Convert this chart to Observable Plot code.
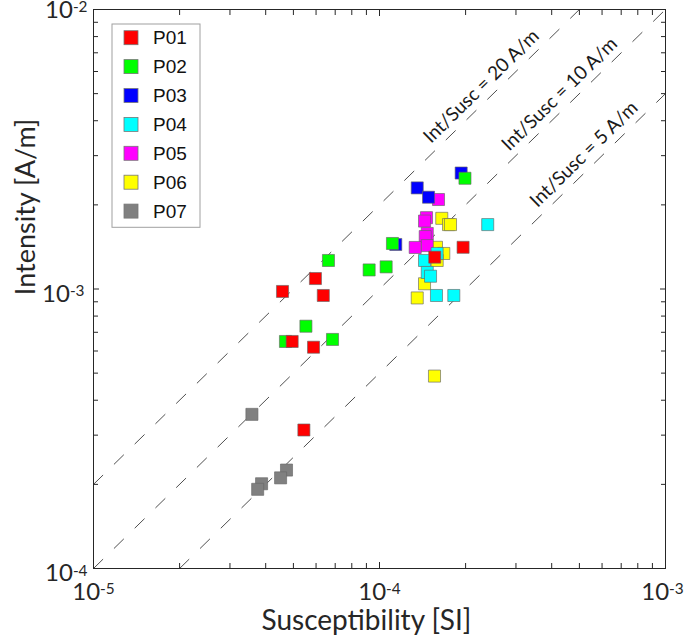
<!DOCTYPE html>
<html><head><meta charset="utf-8">
<script src="https://cdn.jsdelivr.net/npm/d3@7"></script>
<script src="https://cdn.jsdelivr.net/npm/@observablehq/plot@0.6"></script>
<style>
body{margin:0;background:#fff;}
#chart{width:685px;height:640px;}
</style></head><body><div id="chart"></div>
<script>
// ---- data ----
const series = ["P01","P02","P03","P04","P05","P06","P07"];
const colors = ["#ff0000","#00ff00","#0000ff","#00ffff","#ff00ff","#ffff00","#808080"];

const suscP01 = [1.96e-4, 1.56e-4, 5.97e-5, 4.58e-5, 6.36e-5, 4.95e-5, 5.88e-5, 5.44e-5];
const intP01  = [1.41e-3, 1.30e-3, 1.09e-3, 9.80e-4, 9.48e-4, 6.49e-4, 6.19e-4, 3.13e-4];
const suscP02 = [1.99e-4, 1.11e-4, 6.63e-5, 1.055e-4, 9.20e-5, 5.53e-5, 4.69e-5, 6.85e-5];
const intP02  = [2.49e-3, 1.455e-3, 1.265e-3, 1.20e-3, 1.17e-3, 7.36e-4, 6.49e-4, 6.60e-4];
const suscP03 = [1.93e-4, 1.355e-4, 1.484e-4, 1.14e-4];
const intP03  = [2.60e-3, 2.30e-3, 2.13e-3, 1.443e-3];
const suscP04 = [2.39e-4, 1.59e-4, 1.437e-4, 1.469e-4, 1.508e-4, 1.582e-4, 1.819e-4];
const intP04  = [1.70e-3, 1.34e-3, 1.265e-3, 1.146e-3, 1.111e-3, 9.48e-4, 9.48e-4];
const suscP05 = [1.608e-4, 1.46e-4, 1.437e-4, 1.469e-4, 1.445e-4, 1.469e-4, 1.333e-4];
const intP05  = [2.09e-3, 1.80e-3, 1.75e-3, 1.58e-3, 1.54e-3, 1.43e-3, 1.408e-3];
const suscP06 = [1.651e-4, 1.743e-4, 1.771e-4, 1.582e-4, 1.678e-4, 1.591e-4, 1.437e-4, 1.355e-4, 1.557e-4];
const intP06  = [1.79e-3, 1.70e-3, 1.70e-3, 1.41e-3, 1.34e-3, 1.265e-3, 1.044e-3, 9.29e-4, 4.88e-4];
const suscP07 = [3.58e-5, 4.73e-5, 4.51e-5, 3.87e-5, 3.75e-5];
const intP07  = [3.56e-4, 2.25e-4, 2.11e-4, 2.01e-4, 1.92e-4];

const ratios = [20, 10, 5];                         // Int/Susc reference lines (A/m)
const ratioLabels = ["Int/Susc = 20 A/m", "Int/Susc = 10 A/m", "Int/Susc = 5 A/m"];
const ratioLabelX = [2.45e-4, 4.6e-4, 5.6e-4];      // susceptibility where each label sits

const xDomain = [1e-5, 1e-3];
const yDomain = [1e-4, 1e-2];
const xTicks = [1e-5, 1e-4, 1e-3];
const xTickLabels = ["10^-5", "10^-4", "10^-3"];
const yTicks = [1e-4, 1e-3, 1e-2];
const yTickLabels = ["10^-4", "10^-3", "10^-2"];
const xTitle = "Susceptibility [SI]";
const yTitle = "Intensity [A/m]";

// ---- build tables ----
const suscAll = [suscP01, suscP02, suscP03, suscP04, suscP05, suscP06, suscP07];
const intAll  = [intP01, intP02, intP03, intP04, intP05, intP06, intP07];
const points = [];
for (let s = series.length - 1; s >= 0; s--) {   // P01 drawn last (on top)
  suscAll[s].forEach((v, i) => points.push({series: series[s], susc: v, int: intAll[s][i]}));
}
const lines = [];
ratios.forEach(k => {
  const x0 = Math.max(xDomain[0], yDomain[0] / k), x1 = Math.min(xDomain[1], yDomain[1] / k);
  lines.push({k, susc: x0, int: k * x0}, {k, susc: x1, int: k * x1});
});
const labels = ratios.map((k, i) => ({text: ratioLabels[i], susc: ratioLabelX[i], int: k * ratioLabelX[i]}));

const minorOf = (dom) => {
  const out = [];
  for (let d = dom[0]; d < dom[1] * 0.999; d *= 10) for (let m = 2; m <= 9; m++) out.push(d * m);
  return out;
};
const xMinor = minorOf(xDomain), yMinor = minorOf(yDomain);

const W = 685, H = 640, mL = 93, mR = 20, mT = 9, mB = 72;
const angle = -Math.atan((H - mT - mB) / (W - mL - mR)) * 180 / Math.PI;
const axisColor = "#262626";
const blank = () => "";
const font = "Lato, 'Open Sans', sans-serif";

const plot = Plot.plot({
  width: W, height: H,
  marginLeft: mL, marginRight: mR, marginTop: mT, marginBottom: mB,
  style: {fontFamily: font, fontSize: "24px", color: axisColor, background: "white"},
  x: {type: "log", domain: xDomain, axis: null},
  y: {type: "log", domain: yDomain, axis: null},
  color: {domain: series, range: colors},
  marks: [
    Plot.line(lines, {x: "susc", y: "int", z: "k", stroke: "#222", strokeWidth: 0.8, strokeDasharray: "13,16", clip: true}),
    Plot.text(labels, {x: "susc", y: "int", text: "text", rotate: angle, dx: -9.5, dy: -9.7,
      textAnchor: "middle", lineAnchor: "middle", fontSize: 19, fill: "#1a1a1a", fontFamily: font}),
    Plot.dot(points, {x: "susc", y: "int", fill: "series", symbol: "square", r: 6.8,
      stroke: "#666", strokeWidth: 0.8, strokeOpacity: 0.8}),
    Plot.frame({stroke: axisColor, strokeWidth: 1}),
    // minor + major ticks (inward) on all sides
    Plot.axisX(xMinor, {anchor: "bottom", tickSize: -5, tickFormat: blank, stroke: axisColor, label: null}),
    Plot.axisX(xMinor, {anchor: "top", tickSize: -5, tickFormat: blank, stroke: axisColor, label: null}),
    Plot.axisY(yMinor, {anchor: "left", tickSize: -5, tickFormat: blank, stroke: axisColor, label: null}),
    Plot.axisY(yMinor, {anchor: "right", tickSize: -5, tickFormat: blank, stroke: axisColor, label: null}),
    Plot.axisX(xTicks, {anchor: "bottom", tickSize: -6, tickFormat: blank, stroke: axisColor, label: null}),
    Plot.axisX(xTicks, {anchor: "top", tickSize: -6, tickFormat: blank, stroke: axisColor, label: null}),
    Plot.axisY(yTicks, {anchor: "left", tickSize: -6, tickFormat: blank, stroke: axisColor, label: null}),
    Plot.axisY(yTicks, {anchor: "right", tickSize: -6, tickFormat: blank, stroke: axisColor, label: null}),
    // tick labels
    Plot.axisX(xTicks, {anchor: "bottom", tickSize: 0, tickPadding: 14, label: null,
      tickFormat: d => xTickLabels[xTicks.indexOf(d)], fill: axisColor}),
    Plot.axisY(yTicks, {anchor: "left", tickSize: 0, tickPadding: 6, dy: 5, label: null,
      tickFormat: d => yTickLabels[yTicks.indexOf(d)], fill: axisColor}),
    // axis titles
    Plot.text([xTitle], {frameAnchor: "bottom", dy: 53, dx: -13, text: d => d, fontSize: 28,
      textAnchor: "middle", lineAnchor: "middle", fill: axisColor}),
    Plot.text([yTitle], {frameAnchor: "left", dx: -67, dy: -82, rotate: -90, text: d => d, fontSize: 27,
      textAnchor: "middle", lineAnchor: "middle", fill: axisColor})
  ]
});

// superscript exponents in tick labels; keep the edge labels inside the page
d3.select(plot).selectAll("text").each(function () {
  const t = this.textContent;
  const m = /^10\^(-?\d+)$/.exec(t);
  if (!m) return;
  const sel = d3.select(this);
  sel.text("");
  sel.append("tspan").text("10");
  sel.append("tspan").attr("dy", "-0.36em").attr("font-size", "0.64em").text(m[1]);
  if (t === xTickLabels[xTickLabels.length - 1]) sel.attr("dx", -3);
  if (t === yTickLabels[yTickLabels.length - 1]) sel.attr("y", 3);
});

// legend (inside the axes, top-left)
const svg = d3.select(plot);
const lg = svg.append("g").attr("font-family", "'Liberation Sans', Arial, sans-serif").attr("text-anchor", "start");
const lgX = 112, lgY = 24, lgW = 88, rowH = 28.9;
lg.append("rect").attr("x", lgX).attr("y", lgY).attr("width", lgW).attr("height", rowH * series.length + 1)
  .attr("fill", "white").attr("stroke", "#a0a0a0").attr("stroke-width", 1);
series.forEach((s, i) => {
  const cy = lgY + 13.7 + i * rowH;
  lg.append("rect").attr("x", lgX + 12).attr("y", cy - 7).attr("width", 14).attr("height", 14)
    .attr("fill", colors[i]).attr("stroke", "#777").attr("stroke-width", 0.8);
  lg.append("text").attr("x", lgX + 41).attr("y", cy).attr("dy", "0.35em").attr("text-anchor", "start")
    .attr("font-size", 19).attr("fill", "#111").text(s);
});

document.getElementById("chart").appendChild(plot);
</script></body></html>
